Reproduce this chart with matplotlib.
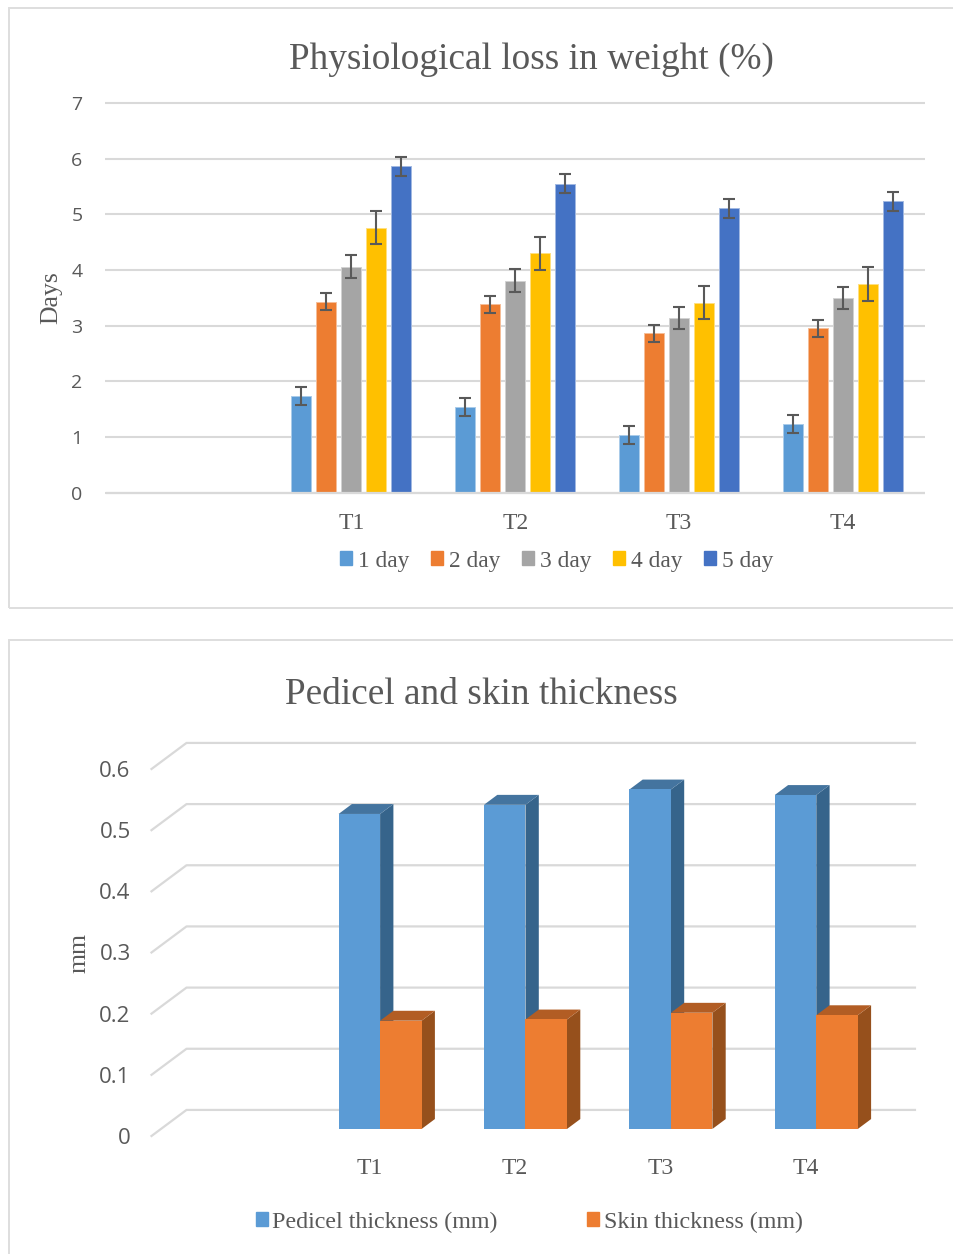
import matplotlib
matplotlib.use('Agg')
import matplotlib.pyplot as plt
import numpy as np
from matplotlib.patches import Patch, Polygon, Rectangle

W = 954
H = 1254

categorias = ['', 'T1', 'T2', 'T3', 'T4']

dias = ['1 day', '2 day', '3 day', '4 day', '5 day']
dia1 = [1.73, 1.53, 1.03, 1.23]
dia2 = [3.43, 3.38, 2.86, 2.95]
dia3 = [4.06, 3.81, 3.13, 3.49]
dia4 = [4.76, 4.30, 3.41, 3.75]
dia5 = [5.86, 5.55, 5.11, 5.23]
erros = [0.16, 0.15, 0.20, 0.30, 0.17]
cores_dias = ['#5b9bd5', '#ed7d31', '#a5a5a5', '#ffc000', '#4472c4']
bordas_dias = ['#a9cbea', '#f6bd98', '#d2d2d2', '#ffdf80', '#a1b8e1']

pedicelo = [0.515, 0.530, 0.555, 0.546]
casca = [0.177, 0.179, 0.190, 0.186]

CINZA = '#d9d9d9'
TEXTO = '#595959'
SERIF = 'Liberation Serif'
SANS = 'Open Sans'


def eixo(x0, x1, y_topo, y_base):
    # posicao em pixels da imagem
    return fig.add_axes([x0 / W, 1 - y_base / H, (x1 - x0) / W, (y_base - y_topo) / H])


def moldura(x0, y0, x1, y1):
    # x1 e y1 podem passar da imagem: o lado direito nao aparece
    fig.add_artist(Rectangle((x0 / W, 1 - y1 / H), (x1 - x0) / W, (y1 - y0) / H,
                             transform=fig.transFigure, fill=False,
                             edgecolor='#dedede', linewidth=1.4))


fig = plt.figure(figsize=(W / 100, H / 100), dpi=100, facecolor='white')
moldura(9, 8, 965, 608)
moldura(9, 640, 965, 1265)

# ---- grafico de cima ----
ax = eixo(105.5, 925, 103, 492.5)
ax.set_xlim(-0.5, 4.5)
ax.set_ylim(0, 7)
ax.set_axisbelow(True)
ax.yaxis.grid(True, color=CINZA, linewidth=1.5, clip_on=False, solid_capstyle='butt')
for lado in ax.spines:
    ax.spines[lado].set_visible(False)
ax.spines['bottom'].set_visible(True)
ax.spines['bottom'].set_color(CINZA)
ax.spines['bottom'].set_linewidth(1.6)
ax.spines['bottom'].set_capstyle('butt')

x = np.arange(1, 5)
series = [dia1, dia2, dia3, dia4, dia5]
for i, serie in enumerate(series):
    ax.bar(x + (i - 2) * 0.1524, serie, 0.122, color=cores_dias[i],
           edgecolor=bordas_dias[i], linewidth=0.7,
           yerr=erros[i], ecolor='#595959', capsize=4,
           error_kw={'elinewidth': 1.5, 'capthick': 1.5}, label=dias[i])

ax.set_xticks(range(5))
ax.set_xticklabels(categorias, family=SERIF, fontsize=17, color=TEXTO)
ax.set_yticks(range(8))
ax.set_yticklabels(range(8), family=SANS, fontsize=14, color=TEXTO)
ax.tick_params(axis='x', length=0, pad=15)
ax.tick_params(axis='y', length=0, pad=16.5)
fig.text(531 / W, 1 - 60 / H, 'Physiological loss in weight (%)', family=SERIF,
         fontsize=26.8, color=TEXTO, ha='center', va='center')
fig.text(51 / W, 1 - 298 / H, 'Days', family=SERIF, fontsize=18.5, color=TEXTO,
         rotation=90, ha='center', va='center')

fig.legend(handles=[Patch(color=c, label=d) for c, d in zip(cores_dias, dias)],
           loc='center', bbox_to_anchor=(556.5 / W, 1 - 561 / H), ncol=5, frameon=False,
           prop={'family': SERIF, 'size': 16.8}, labelcolor=TEXTO,
           handlelength=0.52, handleheight=0.52, handletextpad=0.25, columnspacing=0.92)

# ---- grafico de baixo (3D falso) ----
ax2 = eixo(151.5, 878.5, 769, 1136)
ax2.set_xlim(-0.5, 4.5)
ax2.set_ylim(0, 0.6)
for lado in ax2.spines:
    ax2.spines[lado].set_visible(False)

# profundidade do piso em unidades dos dados
prof_x = 35 / 145.4
prof_y = 26 / 61 * 0.1

for v in np.arange(0, 0.7, 0.1):
    ax2.plot([-0.5, -0.5 + prof_x, 4.51 + prof_x], [v, v + prof_y, v + prof_y],
             color=CINZA, linewidth=1.6, clip_on=False, zorder=1)


def barra3d(xc, largura, valor, cor, cor_topo, cor_lado):
    # frente da barra a 0.3 da profundidade, fundo a 0.68
    dx0, dy0 = 0.3 * prof_x, 0.27 * prof_y
    dx1, dy1 = 0.68 * prof_x, 0.65 * prof_y
    e = xc + dx0
    d = e + largura
    fx = dx1 - dx0
    fy = dy1 - dy0
    ax2.add_patch(Polygon([(d, dy0), (d + fx, dy0 + fy), (d + fx, dy0 + fy + valor), (d, dy0 + valor)],
                          facecolor=cor_lado, edgecolor='none', clip_on=False, zorder=3))
    ax2.add_patch(Polygon([(e, dy0 + valor), (d, dy0 + valor), (d + fx, dy0 + fy + valor), (e + fx, dy0 + fy + valor)],
                          facecolor=cor_topo, edgecolor='none', clip_on=False, zorder=3))
    ax2.bar(e, valor, largura, bottom=dy0, align='edge', color=cor, zorder=4, clip_on=False)


larg = 41.5 / 145.4
for i in range(4):
    barra3d(x[i] - larg, larg, pedicelo[i], '#5b9bd5', '#44749f', '#36648b')
for i in range(4):
    barra3d(x[i], larg, casca[i], '#ed7d31', '#b25d24', '#96501c')

ax2.set_xticks(range(5))
ax2.set_xticklabels(categorias, family=SERIF, fontsize=17, color=TEXTO)
ax2.set_yticks(np.arange(0, 0.7, 0.1))
ax2.set_yticklabels(['0', '0.1', '0.2', '0.3', '0.4', '0.5', '0.6'], family=SANS,
                    fontsize=16, color=TEXTO)
ax2.tick_params(axis='x', length=0, pad=15.5)
ax2.tick_params(axis='y', length=0, pad=15)

fig.text(481 / W, 1 - 695 / H, 'Pedicel and skin thickness', family=SERIF,
         fontsize=26.8, color=TEXTO, ha='center', va='center')
fig.text(80 / W, 1 - 953 / H, 'mm', family=SERIF, fontsize=18.5, color=TEXTO,
         rotation=90, ha='center', va='center')

fig.legend(handles=[Patch(color='#5b9bd5', label='Pedicel thickness (mm)'),
                    Patch(color='#ed7d31', label='Skin thickness (mm)')],
           loc='center', bbox_to_anchor=(529 / W, 1 - 1222 / H), ncol=2, frameon=False,
           prop={'family': SERIF, 'size': 17.3}, labelcolor=TEXTO,
           handlelength=0.5, handleheight=0.5, handletextpad=0.2, columnspacing=3.7)

fig.savefig('out.png', dpi=100)
